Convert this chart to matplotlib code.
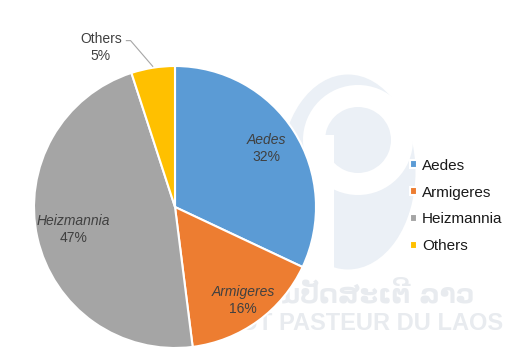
import numpy as np
import matplotlib
matplotlib.use("Agg")
import matplotlib.pyplot as plt
from matplotlib.patches import Ellipse, Rectangle, Wedge

categories = ["Aedes", "Armigeres", "Heizmannia", "Others"]
values = [32, 16, 47, 5]
colors = ["#5B9BD5", "#ED7D31", "#A5A5A5", "#FFC000"]
label_dist = [0.77, 0.82, 0.74, None]

plt.rcParams['font.family'] = ['Liberation Sans', 'DejaVu Sans']

W, H = 513, 363
fig = plt.figure(figsize=(W / 100, H / 100), dpi=100)
fig.patch.set_facecolor("white")

# faint watermark (logo + institute name)
bg = fig.add_axes([0, 0, 1, 1], zorder=0)
bg.set_xlim(0, W); bg.set_ylim(H, 0); bg.axis("off")
wm = "#ebf0f6"
bg.add_patch(Ellipse((348, 172), 135, 195, color=wm, lw=0))
bg.add_patch(Wedge((358, 140), 55, 0, 360, width=22, color="white", lw=0))
bg.add_patch(Rectangle((310, 135), 24, 135, color="white", lw=0))
bg.text(330, 293, "ສະຖາບັນປັດສະເຕີ ລາວ", fontsize=19, fontweight="bold",
        color="#e8ebef", ha="center", va="center", family=["DejaVu Sans"])
bg.text(335, 323, "INSTITUT PASTEUR DU LAOS", fontsize=17, fontweight="bold",
        color="#e8ebef", ha="center", va="center")

cx, cy, r = 175, 207, 141
ax = fig.add_axes([(cx - r) / W, (H - cy - r) / H, 2 * r / W, 2 * r / H], zorder=1)
ax.patch.set_alpha(0)
wedges, _ = ax.pie(values, colors=colors, startangle=90, counterclock=False,
                   wedgeprops=dict(edgecolor="white", linewidth=1.5))
ax.set_aspect("equal")
ax.set_xlim(-1, 1); ax.set_ylim(-1, 1)

lc = "#404040"
for w, name, v, d in zip(wedges, categories, values, label_dist):
    ang = np.deg2rad((w.theta1 + w.theta2) / 2)
    if d is not None:
        x, y = d * np.cos(ang), d * np.sin(ang)
        ax.text(x, y + 0.06, name, style="italic", fontsize=10, color=lc,
                ha="center", va="center")
        ax.text(x, y - 0.06, f"{v}%", fontsize=10, color=lc,
                ha="center", va="center")
    else:
        ex, ey = np.cos(ang), np.sin(ang)
        tx, ty = -0.525, 1.13
        ax.text(tx, ty + 0.06, name, fontsize=10, color=lc, ha="center", va="center", clip_on=False)
        ax.text(tx, ty - 0.06, f"{v}%", fontsize=10, color=lc, ha="center", va="center", clip_on=False)
        ax.plot([tx + 0.18, tx + 0.21, ex * 1.01], [ty + 0.05, ty + 0.05, ey * 1.01],
                color="#a6a6a6", lw=0.8, clip_on=False)

leg = fig.legend(wedges, categories, loc="center left", bbox_to_anchor=(396 / W, 1 - 206 / H),
                 frameon=False, fontsize=11, handlelength=0.45, handleheight=0.45,
                 handletextpad=0.35, labelspacing=0.85)
for t in leg.get_texts():
    t.set_color("#1a1a1a")

fig.savefig("out.png", dpi=100, facecolor="white")
